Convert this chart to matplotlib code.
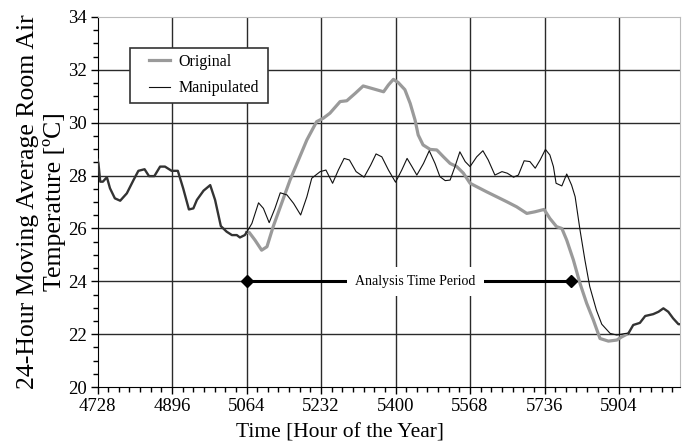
import matplotlib.pyplot as plt
from matplotlib.patches import Rectangle
from matplotlib.ticker import MultipleLocator

plt.rcParams['font.family'] = ['Liberation Serif', 'DejaVu Serif']

# part of the record where both runs are identical (before / after the analysis window)
pre_hours = [4728, 4730, 4734, 4740, 4749, 4756, 4767, 4779, 4794, 4809, 4820, 4834,
             4844, 4856, 4869, 4880, 4895, 4909, 4921, 4934, 4944, 4952, 4967, 4982,
             4993, 5006, 5019, 5031, 5042, 5049, 5060, 5064]
pre_temp = [28.6, 28.46, 27.77, 27.77, 27.94, 27.52, 27.14, 27.05, 27.33, 27.83, 28.18, 28.24,
            27.98, 27.98, 28.34, 28.34, 28.18, 28.18, 27.52, 26.72, 26.76, 27.08, 27.43, 27.64,
            27.08, 26.09, 25.88, 25.75, 25.75, 25.66, 25.75, 25.85]

post_hours = [5925, 5936, 5951, 5963, 5981, 5993, 6004, 6015, 6026, 6038, 6042]
post_temp = [22.03, 22.35, 22.43, 22.69, 22.76, 22.85, 22.98, 22.85, 22.60, 22.38, 22.38]

orig_hours = [5064, 5070, 5083, 5098, 5110, 5124, 5143, 5162, 5181, 5200, 5222, 5237,
              5252, 5275, 5290, 5309, 5327, 5346, 5373, 5384, 5395, 5406, 5421, 5433,
              5444, 5451, 5462, 5478, 5493, 5508, 5523, 5538, 5553, 5568, 5583, 5605,
              5628, 5651, 5673, 5696, 5714, 5735, 5748, 5763, 5775, 5786, 5801, 5816,
              5831, 5846, 5861, 5880, 5899, 5910, 5925]
orig_temp = [25.85, 25.85, 25.56, 25.18, 25.31, 26.07, 26.95, 27.83, 28.59, 29.35, 30.04, 30.17,
             30.36, 30.80, 30.83, 31.11, 31.39, 31.30, 31.17, 31.43, 31.64, 31.52, 31.25, 30.73,
             30.10, 29.54, 29.16, 28.99, 28.97, 28.71, 28.46, 28.34, 28.09, 27.71, 27.58, 27.39,
             27.20, 27.01, 26.82, 26.57, 26.63, 26.72, 26.38, 26.07, 26.00, 25.56, 24.81, 23.92,
             23.17, 22.54, 21.84, 21.74, 21.78, 21.90, 22.03]

manip_hours = [5064, 5076, 5091, 5102, 5115, 5128, 5140, 5155, 5170, 5186, 5200, 5211,
               5230, 5243, 5258, 5271, 5284, 5296, 5311, 5329, 5344, 5356, 5369, 5384,
               5400, 5414, 5426, 5437, 5448, 5463, 5476, 5489, 5500, 5512, 5523, 5534,
               5545, 5557, 5568, 5583, 5597, 5609, 5624, 5640, 5652, 5666, 5677, 5690,
               5703, 5715, 5726, 5738, 5748, 5756, 5762, 5775, 5786, 5797, 5805, 5816,
               5827, 5838, 5853, 5865, 5884, 5899, 5918, 5925]
manip_temp = [25.85, 26.19, 26.97, 26.76, 26.22, 26.76, 27.35, 27.27, 26.95, 26.51, 27.20, 27.90,
              28.15, 28.21, 27.71, 28.21, 28.65, 28.59, 28.15, 27.94, 28.40, 28.82, 28.71, 28.21,
              27.75, 28.21, 28.65, 28.34, 28.02, 28.46, 28.94, 28.46, 27.96, 27.81, 27.83, 28.34,
              28.90, 28.53, 28.34, 28.71, 28.94, 28.59, 28.02, 28.15, 28.09, 27.94, 28.02, 28.56,
              28.53, 28.28, 28.59, 28.99, 28.78, 28.34, 27.71, 27.61, 28.06, 27.64, 27.20, 25.94,
              24.81, 23.80, 22.91, 22.38, 22.03, 21.97, 22.03, 22.03]

period_start = 5064
period_end = 5796
period_level = 24

x_ticks = [4728, 4896, 5064, 5232, 5400, 5568, 5736, 5904]
y_ticks = [20, 22, 24, 26, 28, 30, 32, 34]

fig = plt.figure(figsize=(6.92, 4.46), dpi=100)
ax = fig.add_axes([0.141, 0.132, 0.842, 0.830])

# grid drawn by hand so the frame edges stay light
for x in x_ticks[1:]:
    ax.axvline(x, color='#2a2a2a', lw=1.0, zorder=1)
for y in y_ticks[1:-1]:
    ax.axhline(y, color='#2a2a2a', lw=1.0, zorder=1)

ax.plot(orig_hours, orig_temp, color='#9a9a9a', lw=2.3, label='Original', zorder=3)
ax.plot(manip_hours, manip_temp, color='#111111', lw=0.8, label='Manipulated', zorder=4)
ax.plot(pre_hours, pre_temp, color='#333333', lw=1.7, zorder=4)
ax.plot(post_hours, post_temp, color='#333333', lw=1.7, zorder=4)

# analysis window marker
ax.plot([period_start, period_end], [period_level, period_level], color='black', lw=2.2,
        marker='D', markersize=6, zorder=5)
ax.text((period_start + period_end) / 2 + 15, period_level, 'Analysis Time Period',
        ha='center', va='center', fontsize=10, zorder=6,
        bbox=dict(boxstyle='square,pad=0.6', fc='white', ec='none'))

ax.set_xlim(4728, 6042)
ax.set_ylim(20, 34)
ax.set_xticks(x_ticks)
ax.set_yticks(y_ticks)
ax.xaxis.set_minor_locator(MultipleLocator(24))
ax.yaxis.set_minor_locator(MultipleLocator(0.5))
ax.tick_params(which='major', direction='out', length=5, width=1, labelsize=13.5, pad=3)
ax.tick_params(which='minor', direction='out', length=3.5, width=1)

for side in ['top', 'right']:
    ax.spines[side].set_color('#bbbbbb')
for side in ['left', 'bottom']:
    ax.spines[side].set_color('black')

ax.set_xlabel('Time [Hour of the Year]', fontsize=15.5)
ax.xaxis.set_label_coords(0.416, -0.097)
ax.set_ylabel('24-Hour Moving Average Room Air\nTemperature [ºC]', fontsize=18.5,
              linespacing=1.25)
ax.yaxis.set_label_coords(-0.054, 0.5)

# legend box with wide side margins
ax.add_patch(Rectangle((0.056, 0.768), 0.237, 0.148, transform=ax.transAxes,
                       fc='white', ec='#333333', lw=1.2, zorder=7))
leg = ax.legend(loc='upper left', bbox_to_anchor=(0.088, 0.9), borderaxespad=0,
                borderpad=0, frameon=False, fontsize=11.5, handlelength=1.35,
                labelspacing=0.65, handletextpad=0.5)
leg.set_zorder(8)

fig.savefig('out.png', dpi=100)
